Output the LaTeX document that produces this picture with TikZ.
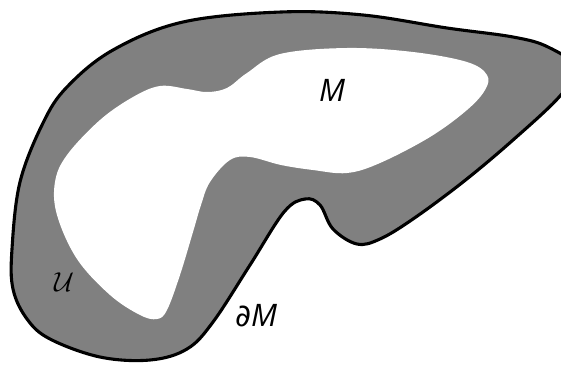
\documentclass[tikz,border=0pt]{standalone}
\usepackage{fontspec}
\setmainfont{Open Sans}
\newfontfamily\symfont{DejaVu Sans}
\usepackage{tikz}
\usetikzlibrary{positioning}
\definecolor{regionGray}{RGB}{128,128,128}
\tikzset{
  regionOuter/.style={draw=black, line width=3.1pt, fill=regionGray, line join=round},
  regionInner/.style={fill=white, draw=none},
  regionLabel/.style={font=\fontsize{31}{36}\selectfont, inner sep=0pt}
}
\begin{document}
\begin{tikzpicture}[x=1pt, y=-1pt]
      \useasboundingbox (0,0) rectangle (561,364);
      \clip (0,0) rectangle (561,364);
      % neighbourhood U with the boundary of M
      \draw[regionOuter] plot[smooth cycle, tension=0.6] coordinates {
        (281,12) (363,15) (447,28) (513,37) (548,47) (576,68)
        (560,96) (513,140) (463,182) (413,219) (380,239) (357,244)
        (333,229) (320,205) (305,199) (284,212) (250,265) (213,322)
        (187,349) (150,360) (100,357) (50,339) (27,319) (13,289)
        (12,249) (20,182) (43,123) (67,87) (113,50) (183,22)};
      % interior of M
      \fill[regionInner] plot[smooth cycle, tension=0.6] coordinates {
        (280,54) (347,48) (413,52) (467,62) (487,75) (485,90)
        (467,110) (430,137) (380,163) (347,173) (313,170) (281,165)
        (250,157) (230,160) (210,182) (201,205) (193,232) (180,275)
        (167,310) (157,319) (140,315) (110,295) (77,259) (57,215)
        (55,182) (67,155) (100,120) (133,97) (160,86) (187,89)
        (207,92) (227,88) (247,73)};
      \node[regionLabel] (labM) at (332,90) {\itshape M};
      \node[regionLabel, scale=1.1] (labU) at (64,282) {$\mathcal{U}$};
      \node[regionLabel] (labBd) at (256,316) {{\symfont ∂}\itshape M};
    \end{tikzpicture}
\end{document}
